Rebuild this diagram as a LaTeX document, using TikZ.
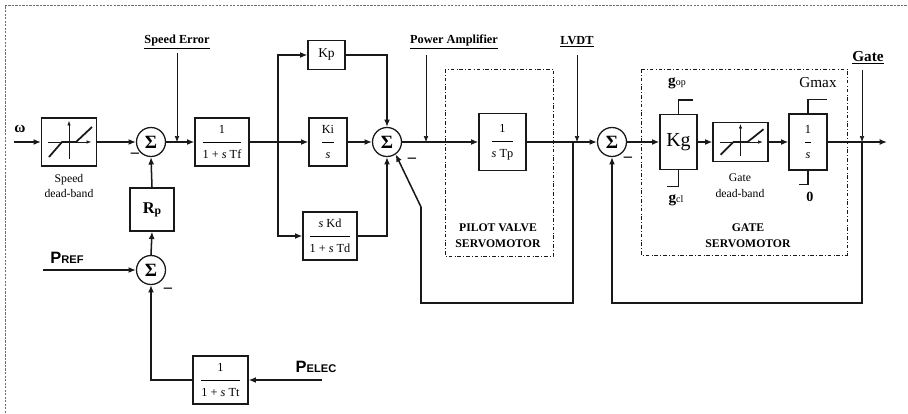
\documentclass[tikz,border=0pt]{standalone}
\usepackage{fontspec}
\setmainfont{Liberation Serif}
\setsansfont{Liberation Sans}
\usepackage{amsmath}
\usepackage{xcolor}
\usepackage{tikz}
\usetikzlibrary{arrows.meta,calc,positioning}
\definecolor{inkblack}{RGB}{25,25,25}
\definecolor{framegrey}{RGB}{110,110,110}
\newcommand{\ratio}[2]{$\dfrac{\text{#1}\rule[-6pt]{0pt}{6pt}}{\rule{0pt}{12.5pt}\text{#2}}$}
\newcommand{\deadband}[2]{%
  \begin{scope}[shift={(#1.center)},yscale=#2]
    \draw[axisline] (-21,0) -- (22,0);
    \draw[axisline] (0,17) -- (0,-21);
    \draw[dbcurve] (-20,15) -- (-7,0) -- (7,0) -- (23,-15);
  \end{scope}}
\tikzset{
  block/.style={draw=inkblack,line width=1.1pt,fill=white,inner sep=1pt,
    align=center,font=\fontsize{10.5}{12}\selectfont},
  sumnode/.style={circle,draw=inkblack,line width=1.1pt,fill=white,
    minimum size=8.7mm,inner sep=0pt,font=\fontsize{16}{16}\selectfont\bfseries},
  flow/.style={-{Latex[length=2.2mm,width=1.8mm]},line width=1.3pt,draw=inkblack},
  link/.style={line width=1.3pt,draw=inkblack},
  probe/.style={-{Latex[length=1.8mm,width=1.4mm]},line width=0.5pt,draw=inkblack},
  limit/.style={line width=1.1pt,draw=inkblack},
  axisline/.style={-{Latex[length=1.3mm,width=1mm]},line width=0.4pt,draw=inkblack},
  dbcurve/.style={line width=1.5pt,draw=inkblack},
  groupbox/.style={draw=inkblack,dash dot,line width=0.6pt},
  outerframe/.style={draw=framegrey,dash pattern=on 2pt off 1pt,line width=0.6pt},
  tag/.style={font=\fontsize{10.5}{12}\selectfont\bfseries},
  groupname/.style={font=\fontsize{10}{13.5}\selectfont\bfseries,align=center},
  smalllabel/.style={font=\fontsize{10}{13.5}\selectfont,align=center},
  sign/.style={font=\fontsize{14}{14}\selectfont\bfseries,inner sep=0pt}
}

\begin{document}
\begin{tikzpicture}[x=0.3mm,y=-0.3mm]
  \useasboundingbox (0,0) rectangle (908,413);
  \draw[outerframe] (5,413) -- (5,5) -- (908,5);

  % groups
  \draw[groupbox] (445,69) rectangle (553,256);
  \draw[groupbox] (641,69) rectangle (847,255);
  \node[groupname] (pilotname) at (498,236) {PILOT VALVE\\SERVOMOTOR};
  \node[groupname] (gatename) at (748,236) {GATE\\SERVOMOTOR};

  % speed loop
  \node[font=\fontsize{13}{13}\selectfont\bfseries] (omega) at (20,129) {ω};
  \coordinate (omegain) at (14,142);
  \node[block,minimum width=16.5mm,minimum height=14.4mm] (speeddb) at (69,142) {};
  \deadband{speeddb}{1}
  \node[smalllabel] (speeddbtxt) at (69,186) {Speed\\dead-band};
  \node[sumnode] (sumspeed) at (151,142) {Σ};
  \node[sign] (m1) at (135,155) {–};
  \node[block,minimum width=16.2mm,minimum height=14.4mm] (filt) at (222,142)
    {\ratio{1}{1 + \textit{s} Tf}};
  \node[tag] (speederr) at (177,42) {\underline{Speed Error}};
  \draw[flow] (omegain) -- (speeddb.west);
  \draw[flow] (speeddb.east) -- (sumspeed.west);
  \draw[flow] (sumspeed.east) -- (filt.west);
  \draw[probe] (speederr.south) -- (speederr.south |- sumspeed.east);

  % PID
  \node[block,minimum width=11.1mm,minimum height=8.7mm,font=\fontsize{11.5}{11.5}\selectfont] (kp) at (326.5,55) {Kp};
  \node[block,minimum width=11.4mm,minimum height=14.4mm] (ki) at (328,142) {\ratio{Ki}{\textit{s}}};
  \node[block,minimum width=16.2mm,minimum height=14.4mm] (kd) at (330,236)
    {\ratio{\textit{s} Kd}{1 + \textit{s} Td}};
  \node[sumnode] (sumpid) at (387,142) {Σ};
  \node[sign] (m2) at (412,160) {–};
  \coordinate (pidfork) at (278,142);
  \draw[link] (filt.east) -- (pidfork);
  \draw[flow] (pidfork) -- (ki.west);
  \draw[flow] (pidfork) |- (kp.west);
  \draw[flow] (pidfork) |- (kd.west);
  \draw[flow] (kp.east) -| (sumpid.north);
  \draw[flow] (kd.east) -| (sumpid.south);
  \draw[flow] (ki.east) -- (sumpid.west);

  % pilot valve
  \node[tag] (amp) at (454,42) {\underline{Power Amplifier}};
  \coordinate (amptop) at (426,55);
  \node[block,minimum width=14.1mm,minimum height=17.1mm] (pilot) at (502.5,142)
    {\ratio{1}{\textit{s} Tp}};
  \node[sumnode] (sumgate) at (612,142) {Σ};
  \node[sign] (m3) at (628,159) {–};
  \node[tag] (lvdt) at (577,42) {\underline{LVDT}};
  \coordinate (lvdttop) at (577,55);
  \draw[probe] (amptop) -- (amptop |- sumpid.east);
  \draw[flow] (sumpid.east) -- (pilot.west);
  \draw[flow] (pilot.east) -- (sumgate.west);
  \draw[probe] (lvdttop) -- (lvdttop |- sumgate.west);
  \coordinate (lvdtfork) at (573,142);
  \coordinate (lvdtlow) at (573,303);
  \coordinate (lvdtbend) at (421,207);
  \draw[flow] (lvdtfork) -- (lvdtlow) -| (lvdtbend) -- (sumpid.-55);

  % gate servomotor
  \node[block,minimum width=11.1mm,minimum height=16.5mm,font=\fontsize{17}{17}\selectfont] (kgain) at (678.5,142) {Kg};
  \node[block,minimum width=16.5mm,minimum height=11.7mm] (gatedb) at (740.5,142) {};
  \deadband{gatedb}{0.85}
  \node[smalllabel] (gatedbtxt) at (740,186) {Gate\\dead-band};
  \node[block,minimum width=11.4mm,minimum height=16.8mm] (integ) at (808,142) {\ratio{1}{\textit{s}}};
  \draw[limit] (kgain.north) -- ++(0,-14) -- ++(14,0);
  \draw[limit] (kgain.south) -- ++(0,16) -- ++(-12,0);
  \draw[limit] (integ.north) -- ++(0,-14) -- ++(19,0);
  \draw[limit] (integ.south) -- ++(0,14) -- ++(-9,0);
  \node (gop) at (677,83) {{\fontsize{13}{13}\selectfont\bfseries g}{\fontsize{8.5}{8.5}\selectfont op}};
  \node (gcl) at (676,200) {{\fontsize{13}{13}\selectfont\bfseries g}{\fontsize{8.5}{8.5}\selectfont cl}};
  \node[font=\fontsize{13}{13}\selectfont] (gmax) at (818,83) {Gmax};
  \node[font=\fontsize{12}{12}\selectfont\bfseries] (gmin) at (810,197) {0};
  \draw[flow] (sumgate.east) -- (kgain.west);
  \draw[flow] (kgain.east) -- (gatedb.west);
  \draw[flow] (gatedb.east) -- (integ.west);
  \coordinate (gateout) at (887,142);
  \draw[flow] (integ.east) -- (gateout);
  \node[font=\fontsize{13}{13}\selectfont\bfseries] (gate) at (868,58) {\underline{Gate}};
  \coordinate (gatetop) at (862,70);
  \draw[probe] (gatetop) -- (gatetop |- integ.east);
  \coordinate (gatefork) at (862,142);
  \coordinate (gatelow) at (862,303);
  \draw[flow] (gatefork) -- (gatelow) -| (sumgate.south);

  % droop and power reference
  \node[block,minimum width=13.2mm,minimum height=12.9mm] (droop) at (152,209.5)
    {\bfseries\fontsize{14}{14}\selectfont R\raisebox{-1pt}{\fontsize{10}{10}\selectfont p}};
  \node[sumnode] (sumref) at (151,270) {Σ};
  \node[sign] (m4) at (168,290) {–};
  \node[font=\sffamily\bfseries] (pref) at (67,258)
    {\fontsize{14}{14}\selectfont P\fontsize{9.5}{9.5}\selectfont REF};
  \coordinate (prefin) at (43,270);
  \node[block,minimum width=16.5mm,minimum height=14.4mm] (turb) at (220.5,380)
    {\ratio{1}{1 + \textit{s} Tt}};
  \node[font=\sffamily\bfseries] (pelec) at (316,367)
    {\fontsize{14}{14}\selectfont P\fontsize{9.5}{9.5}\selectfont ELEC};
  \coordinate (pelecin) at (322,380);
  \draw[flow] (droop.north) -- (sumspeed.south);
  \draw[flow] (sumref.north) -- (droop.south);
  \draw[flow] (prefin) -- (sumref.west);
  \draw[flow] (pelecin) -- (turb.east);
  \draw[flow] (turb.west) -| (sumref.south);
\end{tikzpicture}
\end{document}
